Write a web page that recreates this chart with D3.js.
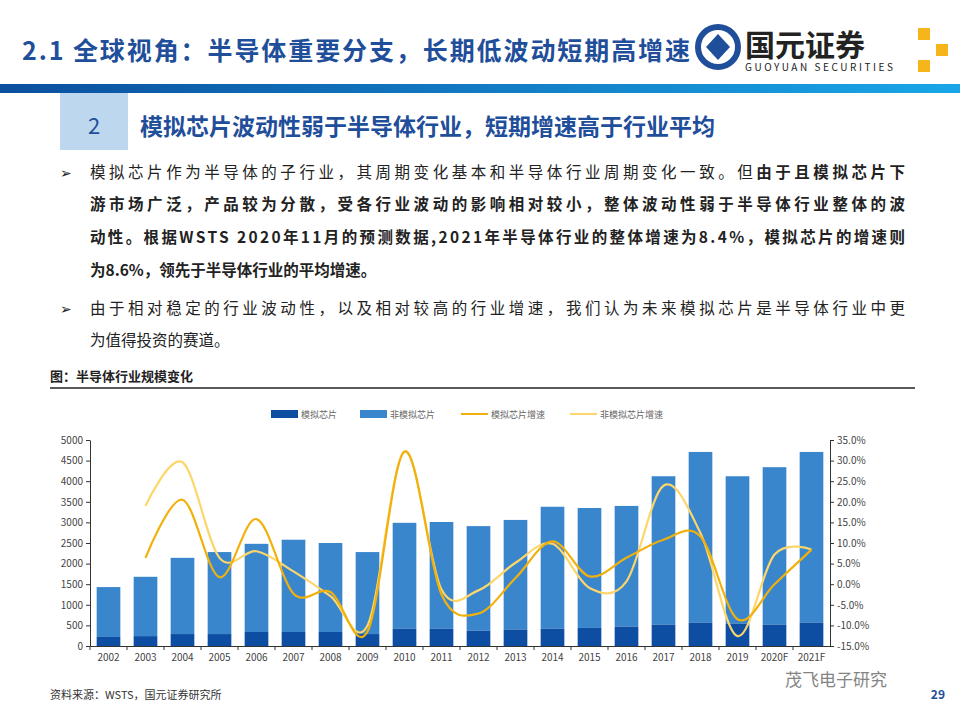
<!DOCTYPE html>
<html><head><meta charset="utf-8">
<script src="https://cdn.jsdelivr.net/npm/d3@7"></script>
<style>
body{margin:0;background:#fff;}
svg text{font-family:"Noto Sans CJK SC","Liberation Sans",sans-serif;}
</style></head>
<body><svg id="page" width="960" height="720"></svg>
<script>
var years = ["2002","2003","2004","2005","2006","2007","2008","2009","2010","2011","2012","2013","2014","2015","2016","2017","2018","2019","2020F","2021F"];
var analog = [220,240,290,290,340,340,340,290,420,420,370,400,420,440,470,520,570,540,520,570];
var total = [1430,1680,2140,2280,2480,2580,2500,2280,2990,3010,2910,3060,3380,3350,3400,4120,4710,4120,4340,4710];
var nonAnalog = total.map(function (t, i) { return t - analog[i]; });
var analogGrowth = [null,6.4,20.5,1.7,15.8,-2.3,-1.9,-11.5,32.2,-2.5,-7.1,1.5,10.4,1.9,6.4,10.8,11.6,-8.5,0.0,8.4];
var nonAnalogGrowth = [null,19.0,29.6,6.4,8.0,3.1,-2.9,-10.0,32.2,-1.3,-1.5,5.2,9.8,-0.9,0.7,23.9,12.4,-12.6,7.2,8.4];
var leftTicks = [0,500,1000,1500,2000,2500,3000,3500,4000,4500,5000];
var rightTicks = [-15,-10,-5,0,5,10,15,20,25,30,35];

var svg = d3.select("#page");
var blue = "#1F4E9A";

// header
svg.append("text").attr("x", 22).attr("y", 60).attr("font-size", 25).attr("font-weight", "bold")
    .attr("fill", blue).attr("textLength", 668).text("2.1 全球视角：半导体重要分支，长期低波动短期高增速");
var grad = svg.append("defs").append("linearGradient").attr("id", "hb");
grad.append("stop").attr("offset", "0%").attr("stop-color", "#0b4f9e");
grad.append("stop").attr("offset", "100%").attr("stop-color", "#19a6e8");
svg.append("rect").attr("x", 0).attr("y", 84).attr("width", 960).attr("height", 9).attr("fill", "url(#hb)");
// logo
svg.append("circle").attr("cx", 718).attr("cy", 47).attr("r", 20).attr("fill", "none").attr("stroke", blue).attr("stroke-width", 6);
svg.append("path").attr("d", "M718,34 L730,47 L718,60 L706,47Z").attr("fill", blue);
svg.append("text").attr("x", 745).attr("y", 56).attr("font-size", 30).attr("font-weight", "bold").attr("fill", "#222").text("国元证券");
svg.append("text").attr("x", 745).attr("y", 71).attr("font-size", 10).attr("fill", "#222").attr("textLength", 148).text("GUOYUAN SECURITIES");
[[918,28],[936,44],[918,60]].forEach(function (p) {
    svg.append("rect").attr("x", p[0]).attr("y", p[1]).attr("width", 12).attr("height", 12).attr("fill", "#f5b51b");
});
svg.append("rect").attr("x", 60).attr("y", 93).attr("width", 68).attr("height", 57).attr("fill", "#BDD7EE");
svg.append("text").attr("x", 94).attr("y", 134).attr("text-anchor", "middle").attr("font-size", 22).attr("fill", blue).text("2");
svg.append("text").attr("x", 140).attr("y", 135).attr("font-size", 23).attr("font-weight", "bold").attr("fill", blue)
    .text("模拟芯片波动性弱于半导体行业，短期增速高于行业平均");

// body text
var lines = [
    [["模拟芯片作为半导体的子行业，其周期变化基本和半导体行业周期变化一致。但", false], ["由于且模拟芯片下", true]],
    [["游市场广泛，产品较为分散，受各行业波动的影响相对较小，整体波动性弱于半导体行业整体的波", true]],
    [["动性。根据WSTS 2020年11月的预测数据,2021年半导体行业的整体增速为8.4%，模拟芯片的增速则", true]],
    [["为8.6%，领先于半导体行业的平均增速。", true]],
    [["由于相对稳定的行业波动性，以及相对较高的行业增速，我们认为未来模拟芯片是半导体行业中更", false]],
    [["为值得投资的赛道。", false]]
];
var ly = [178, 210, 243, 276, 314, 346];
lines.forEach(function (l, i) {
    var t = svg.append("text").attr("x", 90).attr("y", ly[i]).attr("font-size", 15.5).attr("fill", "#222");
    if (l[0][0].length > 30) t.attr("textLength", 815);
    l.forEach(function (s) { t.append("tspan").attr("font-weight", s[1] ? "bold" : "normal").text(s[0]); });
});
[178, 314].forEach(function (y) {
    svg.append("text").attr("x", 60).attr("y", y).attr("font-size", 14).attr("fill", "#222").text("➢");
});
svg.append("text").attr("x", 50).attr("y", 381).attr("font-size", 13).attr("font-weight", "bold").attr("fill", "#222").text("图：半导体行业规模变化");
svg.append("line").attr("x1", 50).attr("x2", 915).attr("y1", 388).attr("y2", 388).attr("stroke", "#222").attr("stroke-width", 1.3);

// chart
var plotL = 90, plotR = 830, plotT = 440, plotB = 646;
var x = d3.scaleBand().domain(years).range([plotL, plotR]).paddingInner(0.36).paddingOuter(0.18);
var y = d3.scaleLinear().domain([0, 5000]).range([plotB, plotT]);
var y2 = d3.scaleLinear().domain([-15, 35]).range([plotB, plotT]);

var gl = svg.append("g").attr("transform", "translate(" + plotL + ",0)")
    .call(d3.axisLeft(y).tickValues(leftTicks).tickSize(4).tickSizeOuter(0).tickFormat(d3.format("d")));
var gr = svg.append("g").attr("transform", "translate(" + plotR + ",0)")
    .call(d3.axisRight(y2).tickValues(rightTicks).tickSize(4).tickSizeOuter(0).tickFormat(function (d) { return d.toFixed(1) + "%"; }));
var gb = svg.append("g").attr("transform", "translate(0," + plotB + ")")
    .call(d3.axisBottom(x).tickSize(0));
[gl, gr, gb].forEach(function (g) {
    g.selectAll("path,line").attr("stroke", "#333");
    g.selectAll("text").attr("font-size", 10).attr("fill", "#444").attr("font-family", "Liberation Sans, sans-serif");
});
gb.selectAll("text").attr("dy", "1.2em");
gb.selectAll(".sep").data(years).enter().append("line")
    .attr("x1", function (d) { return x(d) - x.step() * 0.18; })
    .attr("x2", function (d) { return x(d) - x.step() * 0.18; })
    .attr("y1", 0).attr("y2", 4).attr("stroke", "#333");

svg.selectAll(".bn").data(years).enter().append("rect")
    .attr("x", function (d) { return x(d); }).attr("width", x.bandwidth())
    .attr("y", function (d, i) { return y(total[i]); })
    .attr("height", function (d, i) { return y(analog[i]) - y(total[i]); })
    .attr("fill", "#3A86CC");
svg.selectAll(".ba").data(years).enter().append("rect")
    .attr("x", function (d) { return x(d); }).attr("width", x.bandwidth())
    .attr("y", function (d, i) { return y(analog[i]); })
    .attr("height", function (d, i) { return plotB - y(analog[i]); })
    .attr("fill", "#0D4EA3");

var line = d3.line()
    .defined(function (d) { return d[1] !== null; })
    .x(function (d) { return x(d[0]) + x.bandwidth() / 2; })
    .y(function (d) { return y2(d[1]); })
    .curve(d3.curveCardinal.tension(0));
svg.append("path").attr("d", line(years.map(function (d, i) { return [d, nonAnalogGrowth[i]]; })))
    .attr("fill", "none").attr("stroke", "#FDD66B").attr("stroke-width", 2.2);
svg.append("path").attr("d", line(years.map(function (d, i) { return [d, analogGrowth[i]]; })))
    .attr("fill", "none").attr("stroke", "#F2B00D").attr("stroke-width", 2.2);

// legend
var legend = [["模拟芯片", "rect", "#0D4EA3", 271], ["非模拟芯片", "rect", "#3A86CC", 360], ["模拟芯片增速", "line", "#F2B00D", 461], ["非模拟芯片增速", "line", "#FDD66B", 570]];
legend.forEach(function (l) {
    if (l[1] === "rect") svg.append("rect").attr("x", l[3]).attr("y", 410).attr("width", 27).attr("height", 8).attr("fill", l[2]);
    else svg.append("line").attr("x1", l[3]).attr("x2", l[3] + 27).attr("y1", 414).attr("y2", 414).attr("stroke", l[2]).attr("stroke-width", 2);
    svg.append("text").attr("x", l[3] + 30).attr("y", 418).attr("font-size", 9).attr("fill", "#666").text(l[0]);
});

// footer
svg.append("text").attr("x", 50).attr("y", 699).attr("font-size", 11).attr("fill", "#333").text("资料来源：WSTS，国元证券研究所");
svg.append("text").attr("x", 785).attr("y", 686).attr("font-size", 17).attr("fill", "#666").attr("opacity", 0.8).text("茂飞电子研究");
svg.append("text").attr("x", 945).attr("y", 699).attr("text-anchor", "end").attr("font-size", 12).attr("font-weight", "bold").attr("fill", blue).text("29");
</script></body></html>
